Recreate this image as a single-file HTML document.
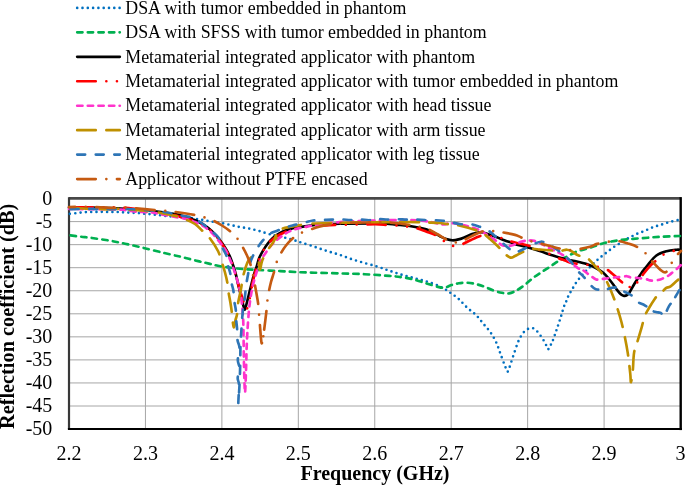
<!DOCTYPE html>
<html><head><meta charset="utf-8"><style>
html,body{margin:0;padding:0;background:#fff;overflow:hidden;}
svg{display:block;will-change:transform;}
text{font-family:"Liberation Serif",serif;fill:#000;}
.t{font-size:20px;}
.lg{font-size:17.85px;}
.ax{font-size:20px;font-weight:bold;}
.ay{font-size:20.3px;font-weight:bold;}
</style></head><body>
<svg width="685" height="485" viewBox="0 0 685 485">
<defs><clipPath id="plotclip"><rect x="66.0" y="195.55" width="617.5" height="233.5"/></clipPath></defs>
<rect width="685" height="485" fill="#fff"/>
<line x1="69.0" y1="221.60" x2="680.5" y2="221.60" stroke="#a6a6a6" stroke-width="1"/>
<line x1="69.0" y1="244.65" x2="680.5" y2="244.65" stroke="#a6a6a6" stroke-width="1"/>
<line x1="69.0" y1="267.70" x2="680.5" y2="267.70" stroke="#a6a6a6" stroke-width="1"/>
<line x1="69.0" y1="290.75" x2="680.5" y2="290.75" stroke="#a6a6a6" stroke-width="1"/>
<line x1="69.0" y1="313.80" x2="680.5" y2="313.80" stroke="#a6a6a6" stroke-width="1"/>
<line x1="69.0" y1="336.85" x2="680.5" y2="336.85" stroke="#a6a6a6" stroke-width="1"/>
<line x1="69.0" y1="359.90" x2="680.5" y2="359.90" stroke="#a6a6a6" stroke-width="1"/>
<line x1="69.0" y1="382.95" x2="680.5" y2="382.95" stroke="#a6a6a6" stroke-width="1"/>
<line x1="69.0" y1="406.00" x2="680.5" y2="406.00" stroke="#a6a6a6" stroke-width="1"/>
<line x1="145.44" y1="198.55" x2="145.44" y2="429.05" stroke="#a6a6a6" stroke-width="1"/>
<line x1="221.88" y1="198.55" x2="221.88" y2="429.05" stroke="#a6a6a6" stroke-width="1"/>
<line x1="298.32" y1="198.55" x2="298.32" y2="429.05" stroke="#a6a6a6" stroke-width="1"/>
<line x1="374.76" y1="198.55" x2="374.76" y2="429.05" stroke="#a6a6a6" stroke-width="1"/>
<line x1="451.20" y1="198.55" x2="451.20" y2="429.05" stroke="#a6a6a6" stroke-width="1"/>
<line x1="527.64" y1="198.55" x2="527.64" y2="429.05" stroke="#a6a6a6" stroke-width="1"/>
<line x1="604.08" y1="198.55" x2="604.08" y2="429.05" stroke="#a6a6a6" stroke-width="1"/>
<text x="52.3" y="204.55" text-anchor="end" class="t">0</text>
<text x="52.3" y="227.60" text-anchor="end" class="t">-5</text>
<text x="52.3" y="250.65" text-anchor="end" class="t">-10</text>
<text x="52.3" y="273.70" text-anchor="end" class="t">-15</text>
<text x="52.3" y="296.75" text-anchor="end" class="t">-20</text>
<text x="52.3" y="319.80" text-anchor="end" class="t">-25</text>
<text x="52.3" y="342.85" text-anchor="end" class="t">-30</text>
<text x="52.3" y="365.90" text-anchor="end" class="t">-35</text>
<text x="52.3" y="388.95" text-anchor="end" class="t">-40</text>
<text x="52.3" y="412.00" text-anchor="end" class="t">-45</text>
<text x="52.3" y="435.05" text-anchor="end" class="t">-50</text>
<text x="69.00" y="459.7" text-anchor="middle" class="t">2.2</text>
<text x="145.44" y="459.7" text-anchor="middle" class="t">2.3</text>
<text x="221.88" y="459.7" text-anchor="middle" class="t">2.4</text>
<text x="298.32" y="459.7" text-anchor="middle" class="t">2.5</text>
<text x="374.76" y="459.7" text-anchor="middle" class="t">2.6</text>
<text x="451.20" y="459.7" text-anchor="middle" class="t">2.7</text>
<text x="527.64" y="459.7" text-anchor="middle" class="t">2.8</text>
<text x="604.08" y="459.7" text-anchor="middle" class="t">2.9</text>
<text x="680.52" y="459.7" text-anchor="middle" class="t">3</text>
<line x1="69.0" y1="198.4" x2="680.5" y2="198.4" stroke="#484848" stroke-width="2.6"/>
<line x1="69.0" y1="197.2" x2="69.0" y2="429" stroke="#383838" stroke-width="2.2"/>
<line x1="67.9" y1="429" x2="681.9" y2="429" stroke="#000" stroke-width="2.2"/>
<line x1="680.7" y1="197.1" x2="680.7" y2="430.1" stroke="#000" stroke-width="2.4"/>
<g fill="none" stroke-linecap="round" stroke-linejoin="round" clip-path="url(#plotclip)">
<path d="M69.00 213.90 C70.05 213.80 73.37 213.52 75.30 213.30 C77.23 213.08 78.85 212.80 80.60 212.60 C82.35 212.40 84.05 212.20 85.80 212.10 C87.55 212.00 89.35 212.03 91.10 212.00 C92.85 211.97 94.55 211.93 96.30 211.90 C98.05 211.87 99.85 211.80 101.60 211.80 C103.35 211.80 105.02 211.87 106.80 211.90 C108.58 211.93 110.50 211.98 112.30 212.00 C114.10 212.02 115.85 211.95 117.60 212.00 C119.35 212.05 121.00 212.20 122.80 212.30 C124.60 212.40 126.60 212.52 128.40 212.60 C130.20 212.68 131.85 212.72 133.60 212.80 C135.35 212.88 137.20 212.97 138.90 213.10 C140.60 213.23 141.20 213.35 143.80 213.60 C146.40 213.85 150.92 214.22 154.50 214.60 C158.08 214.98 161.05 215.50 165.30 215.90 C169.55 216.30 175.67 216.65 180.00 217.00 C184.33 217.35 188.48 217.65 191.30 218.00 C194.12 218.35 195.12 218.80 196.90 219.10 C198.68 219.40 199.45 219.37 202.00 219.80 C204.55 220.23 208.73 221.12 212.20 221.70 C215.67 222.28 219.25 222.65 222.80 223.30 C226.35 223.95 230.87 225.02 233.50 225.60 C236.13 226.18 235.98 226.30 238.60 226.80 C241.22 227.30 245.78 227.90 249.20 228.60 C252.62 229.30 255.68 230.07 259.10 231.00 C262.52 231.93 265.33 233.07 269.70 234.20 C274.07 235.33 281.05 236.73 285.30 237.80 C289.55 238.87 292.35 239.75 295.20 240.60 C298.05 241.45 299.13 241.85 302.40 242.90 C305.67 243.95 310.67 245.53 314.80 246.90 C318.93 248.27 323.07 249.78 327.20 251.10 C331.33 252.42 335.47 253.43 339.60 254.80 C343.73 256.17 347.85 257.93 352.00 259.30 C356.15 260.67 360.35 261.80 364.50 263.00 C368.65 264.20 373.25 265.38 376.90 266.50 C380.55 267.62 383.15 268.60 386.40 269.70 C389.65 270.80 393.03 272.03 396.40 273.10 C399.77 274.17 403.20 275.15 406.60 276.10 C410.00 277.05 413.45 277.90 416.80 278.80 C420.15 279.70 423.30 280.45 426.70 281.50 C430.10 282.55 434.73 284.13 437.20 285.10 C439.67 286.07 439.98 286.48 441.50 287.30 C443.02 288.12 444.77 289.05 446.30 290.00 C447.83 290.95 448.63 291.50 450.70 293.00 C452.77 294.50 455.93 296.53 458.70 299.00 C461.47 301.47 464.42 305.13 467.30 307.80 C470.18 310.47 473.35 312.37 476.00 315.00 C478.65 317.63 480.80 320.72 483.20 323.60 C485.60 326.48 488.23 329.17 490.40 332.30 C492.57 335.43 494.52 338.80 496.20 342.40 C497.88 346.00 499.07 350.05 500.50 353.90 C501.93 357.75 503.82 362.95 504.80 365.50 C505.78 368.05 505.92 368.18 506.40 369.20 C506.88 370.22 507.25 371.70 507.70 371.60 C508.15 371.50 508.62 369.87 509.10 368.60 C509.58 367.33 509.63 366.93 510.60 364.00 C511.57 361.07 513.47 355.08 514.90 351.00 C516.33 346.92 517.52 342.85 519.20 339.50 C520.88 336.15 522.83 332.82 525.00 330.90 C527.17 328.98 530.03 327.77 532.20 328.00 C534.37 328.23 536.08 330.22 538.00 332.30 C539.92 334.38 542.23 338.12 543.70 340.50 C545.17 342.88 546.07 345.13 546.80 346.60 C547.53 348.07 547.65 349.27 548.10 349.30 C548.55 349.33 548.78 348.08 549.50 346.80 C550.22 345.52 551.20 344.50 552.40 341.60 C553.60 338.70 555.27 333.60 556.70 329.40 C558.13 325.20 559.80 320.18 561.00 316.40 C562.20 312.62 563.05 309.15 563.90 306.70 C564.75 304.25 565.42 303.35 566.10 301.70 C566.78 300.05 567.27 298.40 568.00 296.80 C568.73 295.20 569.62 293.67 570.50 292.10 C571.38 290.53 572.38 288.93 573.30 287.40 C574.22 285.87 575.03 284.35 576.00 282.90 C576.97 281.45 577.97 280.13 579.10 278.70 C580.23 277.27 581.55 275.68 582.80 274.30 C584.05 272.92 585.35 271.67 586.60 270.40 C587.85 269.13 589.07 267.93 590.30 266.70 C591.53 265.47 592.77 264.17 594.00 263.00 C595.23 261.83 596.40 260.83 597.70 259.70 C599.00 258.57 600.43 257.32 601.80 256.20 C603.17 255.08 604.50 254.08 605.90 253.00 C607.30 251.92 608.75 250.78 610.20 249.70 C611.65 248.62 613.15 247.47 614.60 246.50 C616.05 245.53 617.47 244.82 618.90 243.90 C620.33 242.98 621.63 241.95 623.20 241.00 C624.77 240.05 626.73 239.03 628.30 238.20 C629.87 237.37 631.03 236.78 632.60 236.00 C634.17 235.22 636.02 234.22 637.70 233.50 C639.38 232.78 641.02 232.37 642.70 231.70 C644.38 231.03 646.12 230.23 647.80 229.50 C649.48 228.77 651.23 227.90 652.80 227.30 C654.37 226.70 655.63 226.38 657.20 225.90 C658.77 225.42 660.52 224.93 662.20 224.40 C663.88 223.87 665.62 223.22 667.30 222.70 C668.98 222.18 670.50 221.73 672.30 221.30 C674.10 220.87 676.82 220.35 678.10 220.10 C679.38 219.85 679.68 219.85 680.00 219.80" stroke="#0070c0" stroke-width="2.65" stroke-dasharray="0.00 5.30 0.00 5.30 0.00 5.31 0.00 5.31 0.00 5.31 0.00 5.31 0.00 5.31 0.00 5.31 0.00 5.31 0.00 5.31 0.00 5.31 0.00 5.31 0.00 5.31 0.00 5.31 0.00 5.31 0.00 5.31 0.00 5.31 0.00 5.31 0.00 5.31 0.00 5.31 0.00 5.31 0.00 5.31 0.00 5.31 0.00 5.31 0.00 5.31 0.00 5.31 0.00 5.31 0.00 5.31 0.00 5.31 0.00 5.31 0.00 5.31 0.00 5.31 0.00 5.31 0.00 5.31 0.00 5.31 0.00 5.31 0.00 5.31 0.00 5.31 0.00 5.31 0.00 5.31 0.00 5.31 0.00 5.31 0.00 5.31 0.00 5.31 0.00 5.31 0.00 5.31 0.00 5.31 0.00 5.31 0.00 5.31 0.00 5.31 0.00 5.31 0.00 5.31 0.00 5.31 0.00 5.31 0.00 5.31 0.00 5.31 0.00 5.31 0.00 5.31 0.00 5.31 0.00 5.31 0.00 5.31 0.00 5.31 0.00 5.31 0.00 5.25 0.00 5.25 0.00 5.25 0.00 5.25 0.00 5.25 0.00 5.25 0.00 5.25 0.00 5.25 0.00 5.25 0.00 5.25 0.00 5.25 0.00 5.25 0.00 5.25 0.00 5.25 0.00 5.25 0.00 5.25 0.00 5.25 0.00 5.25 0.00 5.25 0.00 5.25 0.00 5.25 0.00 5.25 0.00 5.25 0.00 5.25 0.00 5.25 0.00 5.25 0.00 5.25 0.00 5.25 0.00 5.25 0.00 5.25 0.00 5.25 0.00 5.33 0.00 5.33 0.00 5.33 0.00 5.33 0.00 5.33 0.00 5.33 0.00 5.33 0.00 5.33 0.00 5.33 0.00 5.33 0.00 5.33 0.00 5.33 0.00 5.33 0.00 5.33 0.00 5.33 0.00 5.10 0.00 5.10 0.00 5.10 0.00 5.10 0.00 5.10 0.00 5.10 0.00 5.10 0.00 5.10 0.00 5.10 0.00 5.10 0.00 5.10 0.00 5.10 0.00 5.10 0.00 5.31 0.00 5.31 0.00 5.31 0.00 5.31 0.00 5.31 0.00 5.31 0.00 5.31 0.00 5.31 0.00 5.31 0.00 5.31 0.00 5.31 0.00 5.31 0.00 5.31 0.00 5.31 0.00 5.31 0.00 5.31 0.00 5.31 0.00 5.31 0.00 5.31 0.00 5.31 0.00 5.31 0.00 5.31 0.00 5.31 0.00 5.31 0.00 5.30 0.00 5.30" stroke-dashoffset="4.25"/>
<path d="M69.00 235.20 C71.00 235.45 77.17 236.23 81.00 236.70 C84.83 237.17 87.17 237.33 92.00 238.00 C96.83 238.67 104.50 239.75 110.00 240.70 C115.50 241.65 119.62 242.55 125.00 243.70 C130.38 244.85 135.90 246.08 142.30 247.60 C148.70 249.12 157.12 251.30 163.40 252.80 C169.68 254.30 175.77 255.60 180.00 256.60 C184.23 257.60 185.58 258.00 188.80 258.80 C192.02 259.60 195.95 260.60 199.30 261.40 C202.65 262.20 205.40 262.80 208.90 263.60 C212.40 264.40 215.12 265.33 220.30 266.20 C225.48 267.07 233.92 268.18 240.00 268.80 C246.08 269.42 250.10 269.52 256.80 269.90 C263.50 270.28 273.00 270.72 280.20 271.10 C287.40 271.48 294.23 271.93 300.00 272.20 C305.77 272.47 308.20 272.50 314.80 272.70 C321.40 272.90 331.32 273.15 339.60 273.40 C347.88 273.65 356.22 273.78 364.50 274.20 C372.78 274.62 383.10 275.40 389.30 275.90 C395.50 276.40 397.57 276.58 401.70 277.20 C405.83 277.82 409.97 278.57 414.10 279.60 C418.23 280.63 422.37 282.15 426.50 283.40 C430.63 284.65 435.80 286.40 438.90 287.10 C442.00 287.80 443.03 287.93 445.10 287.60 C447.17 287.27 449.03 285.82 451.30 285.10 C453.57 284.38 456.03 283.70 458.70 283.30 C461.37 282.90 464.42 282.57 467.30 282.70 C470.18 282.83 473.12 283.43 476.00 284.10 C478.88 284.77 481.72 285.63 484.60 286.70 C487.48 287.77 490.42 289.48 493.30 290.50 C496.18 291.52 499.27 292.32 501.90 292.80 C504.53 293.28 506.70 293.78 509.10 293.40 C511.50 293.02 513.65 291.95 516.30 290.50 C518.95 289.05 522.12 286.87 525.00 284.70 C527.88 282.53 530.72 279.67 533.60 277.50 C536.48 275.33 539.40 273.62 542.30 271.70 C545.20 269.78 548.12 267.92 551.00 266.00 C553.88 264.08 556.72 261.88 559.60 260.20 C562.48 258.52 565.42 257.35 568.30 255.90 C571.18 254.45 574.02 252.65 576.90 251.50 C579.78 250.35 582.72 249.87 585.60 249.00 C588.48 248.13 591.07 247.30 594.20 246.30 C597.33 245.30 600.28 244.00 604.40 243.00 C608.52 242.00 614.08 240.98 618.90 240.30 C623.72 239.62 628.48 239.33 633.30 238.90 C638.12 238.47 642.98 238.07 647.80 237.70 C652.62 237.33 656.83 236.98 662.20 236.70 C667.57 236.42 677.03 236.12 680.00 236.00" stroke="#00b050" stroke-width="2.65" stroke-dasharray="5.3 5.3" stroke-dashoffset="-1.7"/>
<path d="M69.00 207.60 C72.50 207.60 83.17 207.53 90.00 207.60 C96.83 207.67 104.87 207.83 110.00 208.00 C115.13 208.17 116.63 208.35 120.80 208.60 C124.97 208.85 129.38 209.05 135.00 209.50 C140.62 209.95 147.83 210.55 154.50 211.30 C161.17 212.05 169.75 213.08 175.00 214.00 C180.25 214.92 182.93 215.87 186.00 216.80 C189.07 217.73 190.35 218.23 193.40 219.60 C196.45 220.97 201.25 223.10 204.30 225.00 C207.35 226.90 209.12 228.50 211.70 231.00 C214.28 233.50 217.58 237.25 219.80 240.00 C222.02 242.75 223.35 244.82 225.00 247.50 C226.65 250.18 228.37 253.18 229.70 256.10 C231.03 259.02 231.97 261.92 233.00 265.00 C234.03 268.08 235.02 271.28 235.90 274.60 C236.78 277.92 237.53 281.67 238.30 284.90 C239.07 288.13 239.80 291.15 240.50 294.00 C241.20 296.85 241.82 299.40 242.50 302.00 C243.18 304.60 243.93 309.27 244.60 309.60 C245.27 309.93 245.77 306.60 246.50 304.00 C247.23 301.40 248.00 298.00 249.00 294.00 C250.00 290.00 251.53 283.67 252.50 280.00 C253.47 276.33 254.10 274.25 254.80 272.00 C255.50 269.75 255.98 268.78 256.70 266.50 C257.42 264.22 258.07 260.90 259.10 258.30 C260.13 255.70 261.45 253.37 262.90 250.90 C264.35 248.43 266.15 245.67 267.80 243.50 C269.45 241.33 270.95 239.55 272.80 237.90 C274.65 236.25 276.85 234.83 278.90 233.60 C280.95 232.37 283.03 231.33 285.10 230.50 C287.17 229.67 289.15 229.12 291.30 228.60 C293.45 228.08 294.05 228.00 298.00 227.40 C301.95 226.80 308.00 225.60 315.00 225.00 C322.00 224.40 330.00 224.05 340.00 223.80 C350.00 223.55 367.22 223.53 375.00 223.50 C382.78 223.47 383.20 223.42 386.70 223.60 C390.20 223.78 392.45 224.23 396.00 224.60 C399.55 224.97 404.10 225.27 408.00 225.80 C411.90 226.33 415.75 226.98 419.40 227.80 C423.05 228.62 426.40 229.25 429.90 230.70 C433.40 232.15 437.68 235.10 440.40 236.50 C443.12 237.90 444.20 238.47 446.20 239.10 C448.20 239.73 450.35 240.25 452.40 240.30 C454.45 240.35 456.45 239.92 458.50 239.40 C460.55 238.88 462.43 238.08 464.70 237.20 C466.97 236.32 469.62 234.92 472.10 234.10 C474.58 233.28 477.73 232.57 479.60 232.30 C481.47 232.03 481.65 232.10 483.30 232.50 C484.95 232.90 487.23 233.92 489.50 234.70 C491.77 235.48 494.43 236.27 496.90 237.20 C499.37 238.13 501.83 239.37 504.30 240.30 C506.77 241.23 509.92 242.15 511.70 242.80 C513.48 243.45 512.38 243.45 515.00 244.20 C517.62 244.95 523.28 246.17 527.40 247.30 C531.52 248.43 535.58 249.67 539.70 251.00 C543.82 252.33 547.97 253.97 552.10 255.30 C556.23 256.63 560.38 257.97 564.50 259.00 C568.62 260.03 573.10 260.67 576.80 261.50 C580.50 262.33 583.83 263.08 586.70 264.00 C589.57 264.92 591.52 265.75 594.00 267.00 C596.48 268.25 599.77 270.27 601.60 271.50 C603.43 272.73 603.70 273.07 605.00 274.40 C606.30 275.73 607.93 277.68 609.40 279.50 C610.87 281.32 612.47 283.48 613.80 285.30 C615.13 287.12 616.18 288.85 617.40 290.40 C618.62 291.95 620.00 293.68 621.10 294.60 C622.20 295.52 623.03 295.80 624.00 295.90 C624.97 296.00 625.93 295.87 626.90 295.20 C627.87 294.53 628.83 293.30 629.80 291.90 C630.77 290.50 631.72 288.50 632.70 286.80 C633.68 285.10 634.72 283.28 635.70 281.70 C636.68 280.12 637.63 278.77 638.60 277.30 C639.57 275.83 640.65 274.12 641.50 272.90 C642.35 271.68 642.70 271.27 643.70 270.00 C644.70 268.73 645.38 267.72 647.50 265.30 C649.62 262.88 653.23 257.85 656.40 255.50 C659.57 253.15 663.12 252.17 666.50 251.20 C669.88 250.23 674.45 249.93 676.70 249.70 C678.95 249.47 679.45 249.78 680.00 249.80" stroke="#000000" stroke-width="2.65"/>
<path d="M69.00 207.30 C74.17 207.32 90.67 207.30 100.00 207.40 C109.33 207.50 116.08 207.22 125.00 207.90 C133.92 208.58 146.00 210.48 153.50 211.50 C161.00 212.52 165.08 212.98 170.00 214.00 C174.92 215.02 179.17 216.55 183.00 217.60 C186.83 218.65 189.50 218.97 193.00 220.30 C196.50 221.63 200.83 223.68 204.00 225.60 C207.17 227.52 209.33 229.23 212.00 231.80 C214.67 234.37 217.00 236.72 220.00 241.00 C223.00 245.28 227.33 251.67 230.00 257.50 C232.67 263.33 234.50 271.08 236.00 276.00 C237.50 280.92 238.10 283.83 239.00 287.00 C239.90 290.17 240.57 292.33 241.40 295.00 C242.23 297.67 243.20 300.57 244.00 303.00 C244.80 305.43 245.53 309.10 246.20 309.60 C246.87 310.10 247.45 307.63 248.00 306.00 C248.55 304.37 248.95 302.58 249.50 299.80 C250.05 297.02 250.72 292.43 251.30 289.30 C251.88 286.17 252.30 284.05 253.00 281.00 C253.70 277.95 254.67 274.17 255.50 271.00 C256.33 267.83 256.92 265.00 258.00 262.00 C259.08 259.00 260.50 255.83 262.00 253.00 C263.50 250.17 265.17 247.33 267.00 245.00 C268.83 242.67 270.83 240.75 273.00 239.00 C275.17 237.25 277.50 235.87 280.00 234.50 C282.50 233.13 285.00 231.83 288.00 230.80 C291.00 229.77 293.50 229.10 298.00 228.30 C302.50 227.50 308.00 226.58 315.00 226.00 C322.00 225.42 330.00 225.08 340.00 224.80 C350.00 224.52 367.22 224.28 375.00 224.30 C382.78 224.32 383.10 224.72 386.70 224.90 C390.30 225.08 393.20 225.12 396.60 225.40 C400.00 225.68 403.70 226.10 407.10 226.60 C410.50 227.10 413.85 227.58 417.00 228.40 C420.15 229.22 422.98 230.43 426.00 231.50 C429.02 232.57 432.22 233.28 435.10 234.80 C437.98 236.32 441.15 239.07 443.30 240.60 C445.45 242.13 446.38 243.12 448.00 244.00 C449.62 244.88 451.33 245.65 453.00 245.90 C454.67 246.15 456.35 245.82 458.00 245.50 C459.65 245.18 460.73 244.92 462.90 244.00 C465.07 243.08 468.12 241.33 471.00 240.00 C473.88 238.67 477.70 236.75 480.20 236.00 C482.70 235.25 484.03 235.42 486.00 235.50 C487.97 235.58 489.57 236.12 492.00 236.50 C494.43 236.88 497.73 237.07 500.60 237.80 C503.47 238.53 506.12 239.97 509.20 240.90 C512.28 241.83 515.67 242.55 519.10 243.40 C522.53 244.25 526.57 244.95 529.80 246.00 C533.03 247.05 535.40 248.47 538.50 249.70 C541.60 250.93 545.20 252.05 548.40 253.40 C551.60 254.75 554.93 256.62 557.70 257.80 C560.47 258.98 562.43 259.58 565.00 260.50 C567.57 261.42 569.58 262.62 573.10 263.30 C576.62 263.98 582.28 264.07 586.10 264.60 C589.92 265.13 592.70 265.78 596.00 266.50 C599.30 267.22 603.23 267.73 605.90 268.90 C608.57 270.07 609.83 271.73 612.00 273.50 C614.17 275.27 616.90 277.78 618.90 279.50 C620.90 281.22 622.23 282.55 624.00 283.80 C625.77 285.05 627.83 286.77 629.50 287.00 C631.17 287.23 632.55 286.15 634.00 285.20 C635.45 284.25 636.63 283.17 638.20 281.30 C639.77 279.43 641.43 276.55 643.40 274.00 C645.37 271.45 647.58 268.48 650.00 266.00 C652.42 263.52 655.27 261.22 657.90 259.10 C660.53 256.98 662.80 254.75 665.80 253.30 C668.80 251.85 673.53 250.95 675.90 250.40 C678.27 249.85 679.32 250.07 680.00 250.00" stroke="#ff0000" stroke-width="2.65" stroke-dasharray="18.55 10.60 0.00 10.60 0.00 10.60 18.55 10.60 0.00 10.60 0.00 10.60 18.55 10.60 0.00 10.60 0.00 10.60 18.55 10.60 0.00 10.60 0.00 10.60 18.55 10.60 0.00 10.60 0.00 10.60 18.55 10.60 0.00 10.60 0.00 10.60 18.55 10.60 0.00 10.60 0.00 10.60 18.55 10.60 0.00 10.60 0.00 10.60 18.55 10.60 0.00 10.60 0.00 10.60 18.55 10.68 0.00 10.68 0.00 10.68 18.55 10.68 0.00 10.68 0.00 10.68 18.55 10.68 0.00 10.68 0.00 10.68 18.55 10.68 0.00 10.68 0.00 10.68 18.55 10.68 0.00 10.68 0.00 10.68 18.55 9.18 0.00 9.18 0.00 9.18 18.55 10.60 0.00 10.60 0.00 10.60 18.55 10.60 0.00 10.60 0.00 10.60" stroke-dashoffset="45.33"/>
<path d="M69.00 209.00 C74.17 209.03 91.32 209.10 100.00 209.20 C108.68 209.30 116.87 209.42 121.10 209.60 C125.33 209.78 123.02 209.97 125.40 210.30 C127.78 210.63 131.30 211.27 135.40 211.60 C139.50 211.93 145.90 211.90 150.00 212.30 C154.10 212.70 155.33 213.15 160.00 214.00 C164.67 214.85 173.50 216.53 178.00 217.40 C182.50 218.27 184.17 218.43 187.00 219.20 C189.83 219.97 192.17 220.78 195.00 222.00 C197.83 223.22 201.17 224.67 204.00 226.50 C206.83 228.33 209.33 230.33 212.00 233.00 C214.67 235.67 217.67 239.50 220.00 242.50 C222.33 245.50 224.17 247.75 226.00 251.00 C227.83 254.25 229.50 258.33 231.00 262.00 C232.50 265.67 233.83 269.50 235.00 273.00 C236.17 276.50 237.08 279.67 238.00 283.00 C238.92 286.33 239.83 289.33 240.50 293.00 C241.17 296.67 241.55 300.50 242.00 305.00 C242.45 309.50 242.93 314.17 243.20 320.00 C243.47 325.83 243.47 332.50 243.60 340.00 C243.73 347.50 243.77 356.25 244.00 365.00 C244.23 373.75 244.63 392.50 245.00 392.50 C245.37 392.50 245.93 372.25 246.20 365.00 C246.47 357.75 246.38 354.83 246.60 349.00 C246.82 343.17 247.10 336.50 247.50 330.00 C247.90 323.50 248.42 315.83 249.00 310.00 C249.58 304.17 250.25 299.50 251.00 295.00 C251.75 290.50 252.72 286.33 253.50 283.00 C254.28 279.67 254.62 278.50 255.70 275.00 C256.78 271.50 258.40 265.60 260.00 262.00 C261.60 258.40 263.17 256.48 265.30 253.40 C267.43 250.32 269.90 246.50 272.80 243.50 C275.70 240.50 279.82 237.47 282.70 235.40 C285.58 233.33 287.63 232.23 290.10 231.10 C292.57 229.97 294.18 229.45 297.50 228.60 C300.82 227.75 304.58 226.93 310.00 226.00 C315.42 225.07 323.33 223.75 330.00 223.00 C336.67 222.25 343.33 221.90 350.00 221.50 C356.67 221.10 363.50 220.82 370.00 220.60 C376.50 220.38 382.52 220.30 389.00 220.20 C395.48 220.10 403.73 219.95 408.90 220.00 C414.07 220.05 416.15 220.13 420.00 220.50 C423.85 220.87 428.22 221.53 432.00 222.20 C435.78 222.87 439.53 224.33 442.70 224.50 C445.87 224.67 447.73 223.15 451.00 223.20 C454.27 223.25 457.95 223.80 462.30 224.80 C466.65 225.80 473.60 227.95 477.10 229.20 C480.60 230.45 480.42 230.55 483.30 232.30 C486.18 234.05 491.72 237.85 494.40 239.70 C497.08 241.55 497.95 242.43 499.40 243.40 C500.85 244.37 501.47 245.08 503.10 245.50 C504.73 245.92 507.35 246.05 509.20 245.90 C511.05 245.75 512.75 245.12 514.20 244.60 C515.65 244.08 516.32 243.38 517.90 242.80 C519.48 242.22 521.92 241.48 523.70 241.10 C525.48 240.72 526.85 240.55 528.60 240.50 C530.35 240.45 532.13 240.30 534.20 240.80 C536.27 241.30 538.70 242.38 541.00 243.50 C543.30 244.62 545.53 246.18 548.00 247.50 C550.47 248.82 553.38 250.18 555.80 251.40 C558.22 252.62 560.47 253.45 562.50 254.80 C564.53 256.15 566.25 257.92 568.00 259.50 C569.75 261.08 571.28 262.83 573.00 264.30 C574.72 265.77 576.68 267.35 578.30 268.30 C579.92 269.25 581.10 269.07 582.70 270.00 C584.30 270.93 586.52 272.90 587.90 273.90 C589.28 274.90 589.62 275.08 591.00 276.00 C592.38 276.92 594.67 278.85 596.20 279.40 C597.73 279.95 598.73 279.43 600.20 279.30 C601.67 279.17 603.23 278.82 605.00 278.60 C606.77 278.38 608.97 278.22 610.80 278.00 C612.63 277.78 614.30 277.48 616.00 277.30 C617.70 277.12 619.18 277.08 621.00 276.90 C622.82 276.72 625.32 276.12 626.90 276.20 C628.48 276.28 628.92 277.12 630.50 277.40 C632.08 277.68 634.82 277.77 636.40 277.90 C637.98 278.03 638.30 277.97 640.00 278.20 C641.70 278.43 644.93 278.93 646.60 279.30 C648.27 279.67 648.60 280.20 650.00 280.40 C651.40 280.60 653.17 280.68 655.00 280.50 C656.83 280.32 659.33 279.83 661.00 279.30 C662.67 278.77 663.60 278.02 665.00 277.30 C666.40 276.58 667.98 275.97 669.40 275.00 C670.82 274.03 672.10 272.67 673.50 271.50 C674.90 270.33 676.55 269.08 677.80 268.00 C679.05 266.92 680.47 265.50 681.00 265.00" stroke="#ff33cc" stroke-width="2.65" stroke-dasharray="5.30 5.30 5.30 5.30 5.30 5.30 5.30 5.30 5.30 5.30 5.30 5.30 5.30 5.30 5.30 5.30 5.30 5.30 5.30 5.30 5.30 5.30 5.30 5.30 5.30 5.30 5.30 5.30 5.30 5.30 5.30 5.30 5.30 5.30 5.30 5.30 5.30 5.30 5.30 5.30 5.30 5.30 5.30 5.30 5.30 5.30 5.30 5.30 5.30 5.30 5.30 5.30 5.30 5.30 5.30 5.30 5.30 5.30 5.30 5.30 5.30 5.30 5.30 5.30 5.30 5.30 5.30 5.30 5.30 5.30 5.30 5.30 5.30 5.30 5.30 5.30 5.30 5.30 5.30 5.30 5.30 5.30 5.30 5.30 5.30 5.30 5.30 5.33 5.30 5.33 5.30 5.33 5.30 5.33 5.30 5.33 5.30 5.33 5.30 5.33 5.30 5.33 5.30 5.33 5.30 5.33 5.30 5.33 5.30 5.33 5.30 5.33 5.30 5.15 5.30 5.15 5.30 5.15 5.30 5.15 5.30 5.15 5.30 5.15 5.30 5.15 5.30 5.15 5.30 5.15 5.30 5.15 5.30 5.15 5.30 5.15 5.30 5.15 5.30 5.15 5.30 5.15 5.30 5.15 5.30 5.15 5.30 5.12 5.30 5.12 5.30 5.12 5.30 5.81 5.30 5.81 5.30 5.81 5.30 5.81 5.30 5.81 5.30 5.81 5.30 5.81 5.30 5.81 5.30 5.81 5.30 5.30 5.30 5.30" stroke-dashoffset="2.03"/>
<path d="M69.00 208.40 C70.68 208.37 76.05 208.13 79.10 208.20 C82.15 208.27 84.08 208.67 87.30 208.80 C90.52 208.93 94.95 208.92 98.40 209.00 C101.85 209.08 104.85 209.33 108.00 209.30 C111.15 209.27 114.47 208.80 117.30 208.80 C120.13 208.80 121.98 209.10 125.00 209.30 C128.02 209.50 132.07 209.75 135.40 210.00 C138.73 210.25 141.30 210.42 145.00 210.80 C148.70 211.18 152.27 211.37 157.60 212.30 C162.93 213.23 172.32 215.20 177.00 216.40 C181.68 217.60 182.70 218.23 185.70 219.50 C188.70 220.77 192.28 222.17 195.00 224.00 C197.72 225.83 199.50 228.08 202.00 230.50 C204.50 232.92 207.33 235.08 210.00 238.50 C212.67 241.92 215.95 246.83 218.00 251.00 C220.05 255.17 221.13 259.92 222.30 263.50 C223.47 267.08 224.18 269.42 225.00 272.50 C225.82 275.58 226.62 278.75 227.20 282.00 C227.78 285.25 227.98 288.67 228.50 292.00 C229.02 295.33 229.77 298.78 230.30 302.00 C230.83 305.22 231.32 308.17 231.70 311.30 C232.08 314.43 232.22 318.13 232.60 320.80 C232.98 323.47 233.52 327.43 234.00 327.30 C234.48 327.17 234.98 322.22 235.50 320.00 C236.02 317.78 236.68 316.73 237.10 314.00 C237.52 311.27 237.38 307.60 238.00 303.60 C238.62 299.60 239.92 294.67 240.80 290.00 C241.68 285.33 242.20 280.17 243.30 275.60 C244.40 271.03 246.12 265.62 247.40 262.60 C248.68 259.58 249.20 259.52 251.00 257.50 C252.80 255.48 256.93 250.42 258.20 250.50 C259.47 250.58 258.33 254.83 258.60 258.00 C258.87 261.17 259.18 269.12 259.80 269.50 C260.42 269.88 261.10 263.38 262.30 260.30 C263.50 257.22 265.38 253.70 267.00 251.00 C268.62 248.30 270.73 245.97 272.00 244.10 C273.27 242.23 273.97 241.28 274.60 239.80 C275.23 238.32 275.53 235.45 275.80 235.20 C276.07 234.95 275.67 238.83 276.20 238.30 C276.73 237.77 277.92 233.62 279.00 232.00 C280.08 230.38 280.72 229.48 282.70 228.60 C284.68 227.72 288.35 227.22 290.90 226.70 C293.45 226.18 294.82 226.02 298.00 225.50 C301.18 224.98 304.60 224.00 310.00 223.60 C315.40 223.20 323.73 223.27 330.40 223.10 C337.07 222.93 342.57 222.75 350.00 222.60 C357.43 222.45 366.67 222.30 375.00 222.20 C383.33 222.10 393.00 222.02 400.00 222.00 C407.00 221.98 412.40 222.02 417.00 222.10 C421.60 222.18 423.77 222.35 427.60 222.50 C431.43 222.65 436.90 222.75 440.00 223.00 C443.10 223.25 443.52 223.70 446.20 224.00 C448.88 224.30 451.37 223.83 456.10 224.80 C460.83 225.77 470.07 228.35 474.60 229.80 C479.13 231.25 480.73 231.97 483.30 233.50 C485.87 235.03 487.53 236.83 490.00 239.00 C492.47 241.17 495.72 244.12 498.10 246.50 C500.48 248.88 502.23 251.45 504.30 253.30 C506.37 255.15 508.72 257.15 510.50 257.60 C512.28 258.05 513.22 256.80 515.00 256.00 C516.78 255.20 518.73 253.95 521.20 252.80 C523.67 251.65 526.67 249.65 529.80 249.10 C532.93 248.55 536.70 249.30 540.00 249.50 C543.30 249.70 546.35 250.05 549.60 250.30 C552.85 250.55 556.62 251.10 559.50 251.00 C562.38 250.90 564.82 249.62 566.90 249.70 C568.98 249.78 570.13 250.57 572.00 251.50 C573.87 252.43 575.65 254.25 578.10 255.30 C580.55 256.35 584.72 256.93 586.70 257.80 C588.68 258.67 588.62 259.13 590.00 260.50 C591.38 261.87 593.07 263.92 595.00 266.00 C596.93 268.08 599.52 270.17 601.60 273.00 C603.68 275.83 605.43 278.75 607.50 283.00 C609.57 287.25 611.93 292.92 614.00 298.50 C616.07 304.08 618.27 310.92 619.90 316.50 C621.53 322.08 622.50 325.98 623.80 332.00 C625.10 338.02 626.63 345.73 627.70 352.60 C628.77 359.47 629.65 368.27 630.20 373.20 C630.75 378.13 630.57 382.63 631.00 382.20 C631.43 381.77 632.28 375.53 632.80 370.60 C633.32 365.67 633.23 357.75 634.10 352.60 C634.97 347.45 636.72 344.00 638.00 339.70 C639.28 335.40 640.67 330.75 641.80 326.80 C642.93 322.85 643.60 319.13 644.80 316.00 C646.00 312.87 647.35 310.85 649.00 308.00 C650.65 305.15 653.20 301.07 654.70 298.90 C656.20 296.73 656.83 296.05 658.00 295.00 C659.17 293.95 660.43 293.72 661.70 292.60 C662.97 291.48 664.12 289.35 665.60 288.30 C667.08 287.25 668.77 287.52 670.60 286.30 C672.43 285.08 675.03 282.30 676.60 281.00 C678.17 279.70 679.43 278.92 680.00 278.50" stroke="#bf9000" stroke-width="2.65" stroke-dasharray="18.55 10.60 18.55 10.60 18.55 11.07 18.55 11.07 18.55 10.91 18.55 10.91 18.55 10.91 18.55 10.91 18.55 10.91 18.55 10.91 18.55 10.91 18.55 22.45 18.55 11.70 18.55 11.70 18.55 11.70 18.55 10.65 18.55 10.65 18.55 10.65 18.55 10.65 18.55 10.65 18.55 10.65 18.55 10.65 18.55 10.65 18.55 10.65 18.55 10.65 18.55 10.49 18.55 10.49 18.55 10.49 18.55 10.49 18.55 10.49 18.55 10.49 18.55 10.49 18.55 10.60 18.55 10.60 18.55 10.60" stroke-dashoffset="27.47"/>
<path d="M69.00 209.20 C70.63 209.17 75.65 209.07 78.80 209.00 C81.95 208.93 84.83 208.78 87.90 208.80 C90.97 208.82 93.52 209.05 97.20 209.10 C100.88 209.15 105.20 209.12 110.00 209.10 C114.80 209.08 121.97 208.97 126.00 209.00 C130.03 209.03 130.20 209.05 134.20 209.30 C138.20 209.55 145.42 210.08 150.00 210.50 C154.58 210.92 158.13 211.33 161.70 211.80 C165.27 212.27 168.35 212.70 171.40 213.30 C174.45 213.90 177.02 214.80 180.00 215.40 C182.98 216.00 186.73 216.22 189.30 216.90 C191.87 217.58 193.62 218.65 195.40 219.50 C197.18 220.35 198.23 220.83 200.00 222.00 C201.77 223.17 203.90 224.85 206.00 226.50 C208.10 228.15 210.42 229.92 212.60 231.90 C214.78 233.88 217.48 235.82 219.10 238.40 C220.72 240.98 221.05 244.45 222.30 247.40 C223.55 250.35 225.68 253.22 226.60 256.10 C227.52 258.98 227.18 261.82 227.80 264.70 C228.42 267.58 229.68 270.40 230.30 273.40 C230.92 276.40 230.98 279.82 231.50 282.70 C232.02 285.58 232.92 287.52 233.40 290.70 C233.88 293.88 234.00 298.58 234.40 301.80 C234.80 305.02 235.50 306.98 235.80 310.00 C236.10 313.02 235.98 316.73 236.20 319.90 C236.42 323.07 236.88 325.65 237.10 329.00 C237.32 332.35 237.10 336.83 237.50 340.00 C237.90 343.17 239.45 344.67 239.50 348.00 C239.55 351.33 237.80 356.67 237.80 360.00 C237.80 363.33 239.52 365.00 239.50 368.00 C239.48 371.00 237.78 375.17 237.70 378.00 C237.62 380.83 238.90 380.83 239.00 385.00 C239.10 389.17 238.22 403.00 238.30 403.00 C238.38 403.00 239.18 391.33 239.50 385.00 C239.82 378.67 240.03 371.67 240.20 365.00 C240.37 358.33 240.30 350.83 240.50 345.00 C240.70 339.17 241.12 334.50 241.40 330.00 C241.68 325.50 241.85 322.17 242.20 318.00 C242.55 313.83 243.07 308.33 243.50 305.00 C243.93 301.67 244.35 301.33 244.80 298.00 C245.25 294.67 245.58 289.33 246.20 285.00 C246.82 280.67 247.78 275.83 248.50 272.00 C249.22 268.17 249.75 264.70 250.50 262.00 C251.25 259.30 251.77 258.27 253.00 255.80 C254.23 253.33 256.25 249.77 257.90 247.20 C259.55 244.63 261.05 242.57 262.90 240.40 C264.75 238.23 266.53 235.85 269.00 234.20 C271.47 232.55 274.60 231.73 277.70 230.50 C280.80 229.27 284.72 227.73 287.60 226.80 C290.48 225.87 291.98 225.65 295.00 224.90 C298.02 224.15 302.68 223.03 305.70 222.30 C308.72 221.57 310.15 220.88 313.10 220.50 C316.05 220.12 320.23 220.15 323.40 220.00 C326.57 219.85 329.08 219.70 332.10 219.60 C335.12 219.50 338.38 219.33 341.50 219.40 C344.62 219.47 347.70 219.97 350.80 220.00 C353.90 220.03 356.98 219.57 360.10 219.60 C363.22 219.63 366.52 220.32 369.50 220.20 C372.48 220.08 374.95 219.00 378.00 218.90 C381.05 218.80 384.60 219.55 387.80 219.60 C391.00 219.65 394.08 219.20 397.20 219.20 C400.32 219.20 403.38 219.53 406.50 219.60 C409.62 219.67 412.78 219.53 415.90 219.60 C419.02 219.67 422.08 219.90 425.20 220.00 C428.32 220.10 431.58 220.07 434.60 220.20 C437.62 220.33 440.58 220.50 443.30 220.80 C446.02 221.10 448.95 221.62 450.90 222.00 C452.85 222.38 453.32 222.73 455.00 223.10 C456.68 223.47 458.35 224.02 461.00 224.20 C463.65 224.38 467.80 223.78 470.90 224.20 C474.00 224.62 476.72 225.67 479.60 226.70 C482.48 227.73 485.63 228.85 488.20 230.40 C490.77 231.95 492.63 233.93 495.00 236.00 C497.37 238.07 500.13 240.75 502.40 242.80 C504.67 244.85 506.83 246.85 508.60 248.30 C510.37 249.75 511.68 250.88 513.00 251.50 C514.32 252.12 515.33 252.12 516.50 252.00 C517.67 251.88 518.60 251.38 520.00 250.80 C521.40 250.22 522.65 249.60 524.90 248.50 C527.15 247.40 530.82 245.33 533.50 244.20 C536.18 243.07 538.58 241.73 541.00 241.70 C543.42 241.67 545.50 242.78 548.00 244.00 C550.50 245.22 553.05 246.92 556.00 249.00 C558.95 251.08 563.18 254.37 565.70 256.50 C568.22 258.63 569.07 259.38 571.10 261.80 C573.13 264.22 575.83 268.53 577.90 271.00 C579.97 273.47 581.43 274.32 583.50 276.60 C585.57 278.88 588.25 282.60 590.30 284.70 C592.35 286.80 593.35 288.37 595.80 289.20 C598.25 290.03 602.63 289.87 605.00 289.70 C607.37 289.53 608.42 288.58 610.00 288.20 C611.58 287.82 613.00 287.27 614.50 287.40 C616.00 287.53 617.55 288.37 619.00 289.00 C620.45 289.63 621.15 290.17 623.20 291.20 C625.25 292.23 628.95 293.43 631.30 295.20 C633.65 296.97 635.05 300.12 637.30 301.80 C639.55 303.48 642.40 303.85 644.80 305.30 C647.20 306.75 649.83 309.38 651.70 310.50 C653.57 311.62 654.58 311.62 656.00 312.00 C657.42 312.38 658.95 312.37 660.20 312.80 C661.45 313.23 662.62 314.48 663.50 314.60 C664.38 314.72 664.65 314.80 665.50 313.50 C666.35 312.20 667.17 309.23 668.60 306.80 C670.03 304.37 672.43 301.47 674.10 298.90 C675.77 296.33 677.53 293.05 678.60 291.40 C679.67 289.75 680.18 289.40 680.50 289.00" stroke="#2e75b6" stroke-width="2.65" stroke-dasharray="7.95 10.60 7.95 10.66 7.95 10.66 7.95 10.66 7.95 10.66 7.95 10.66 7.95 10.66 7.95 10.66 7.95 10.66 7.95 10.66 7.95 10.66 7.95 10.66 7.95 10.66 7.95 10.66 7.95 10.68 7.95 10.68 7.95 10.68 7.95 10.68 7.95 10.68 7.95 10.68 7.95 10.68 7.95 10.68 7.95 10.68 7.95 10.68 7.95 10.68 7.95 10.68 7.95 10.68 7.95 10.56 7.95 10.56 7.95 10.56 7.95 10.56 7.95 10.56 7.95 10.56 7.95 10.56 7.95 10.56 7.95 10.56 7.95 10.56 7.95 10.56 7.95 10.56 7.95 10.56 7.95 10.56 7.95 10.56 7.95 10.56 7.95 10.56 7.95 10.56 7.95 10.56 7.95 10.56 7.95 9.69 7.95 9.69 7.95 10.79 7.95 9.05 7.95 8.05 7.95 8.05 7.95 10.60 7.95 10.60" stroke-dashoffset="16.98"/>
<path d="M69.00 207.10 C71.70 207.05 80.03 206.77 85.20 206.80 C90.37 206.83 95.00 207.12 100.00 207.30 C105.00 207.48 111.05 207.85 115.20 207.90 C119.35 207.95 121.58 207.55 124.90 207.60 C128.22 207.65 130.17 207.78 135.10 208.20 C140.03 208.62 149.57 209.67 154.50 210.10 C159.43 210.53 161.37 210.52 164.70 210.80 C168.03 211.08 169.55 211.12 174.50 211.80 C179.45 212.48 189.52 214.00 194.40 214.90 C199.28 215.80 200.60 216.22 203.80 217.20 C207.00 218.18 210.57 219.42 213.60 220.80 C216.63 222.18 219.30 223.80 222.00 225.50 C224.70 227.20 227.27 228.85 229.80 231.00 C232.33 233.15 235.07 235.73 237.20 238.40 C239.33 241.07 240.97 244.15 242.60 247.00 C244.23 249.85 245.63 252.42 247.00 255.50 C248.37 258.58 249.80 262.25 250.80 265.50 C251.80 268.75 252.32 271.77 253.00 275.00 C253.68 278.23 254.03 280.08 254.90 284.90 C255.77 289.72 257.52 299.08 258.20 303.90 C258.88 308.72 258.73 310.50 259.00 313.80 C259.27 317.10 259.38 318.88 259.80 323.70 C260.22 328.52 260.97 340.32 261.50 342.70 C262.03 345.08 262.58 339.95 263.00 338.00 C263.42 336.05 263.43 335.45 264.00 331.00 C264.57 326.55 265.85 316.23 266.40 311.30 C266.95 306.37 266.88 304.70 267.30 301.40 C267.72 298.10 268.28 294.73 268.90 291.50 C269.52 288.27 270.17 285.17 271.00 282.00 C271.83 278.83 272.98 275.73 273.90 272.50 C274.82 269.27 275.35 265.78 276.50 262.60 C277.65 259.42 279.22 256.25 280.80 253.40 C282.38 250.55 284.03 247.98 286.00 245.50 C287.97 243.02 290.27 240.50 292.60 238.50 C294.93 236.50 297.02 235.00 300.00 233.50 C302.98 232.00 307.17 230.67 310.50 229.50 C313.83 228.33 316.68 227.37 320.00 226.50 C323.32 225.63 327.12 224.87 330.40 224.30 C333.68 223.73 333.67 223.40 339.70 223.10 C345.73 222.80 359.88 222.63 366.60 222.50 C373.32 222.37 376.27 222.30 380.00 222.30 C383.73 222.30 385.67 222.30 389.00 222.50 C392.33 222.70 396.68 223.10 400.00 223.50 C403.32 223.90 405.77 224.38 408.90 224.90 C412.03 225.42 415.50 225.83 418.80 226.60 C422.10 227.37 425.67 228.27 428.70 229.50 C431.73 230.73 434.28 232.43 437.00 234.00 C439.72 235.57 442.83 237.65 445.00 238.90 C447.17 240.15 448.28 240.90 450.00 241.50 C451.72 242.10 453.63 242.50 455.30 242.50 C456.97 242.50 458.43 241.97 460.00 241.50 C461.57 241.03 462.70 240.62 464.70 239.70 C466.70 238.78 469.12 237.35 472.00 236.00 C474.88 234.65 478.67 232.43 482.00 231.60 C485.33 230.77 488.60 230.88 492.00 231.00 C495.40 231.12 498.57 231.65 502.40 232.30 C506.23 232.95 511.87 234.05 515.00 234.90 C518.13 235.75 518.62 236.37 521.20 237.40 C523.78 238.43 527.32 240.08 530.50 241.10 C533.68 242.12 537.05 242.68 540.30 243.50 C543.55 244.32 546.80 245.17 550.00 246.00 C553.20 246.83 556.27 247.83 559.50 248.50 C562.73 249.17 566.10 249.90 569.40 250.00 C572.70 250.10 575.87 249.63 579.30 249.10 C582.73 248.57 587.02 247.67 590.00 246.80 C592.98 245.93 594.20 244.73 597.20 243.90 C600.20 243.07 604.38 242.25 608.00 241.80 C611.62 241.35 615.57 240.92 618.90 241.20 C622.23 241.48 625.00 242.57 628.00 243.50 C631.00 244.43 634.08 245.28 636.90 246.80 C639.72 248.32 642.48 250.32 644.90 252.60 C647.32 254.88 649.22 258.02 651.40 260.50 C653.58 262.98 655.83 265.53 658.00 267.50 C660.17 269.47 662.73 271.88 664.40 272.30 C666.07 272.72 666.92 271.35 668.00 270.00 C669.08 268.65 669.45 266.62 670.90 264.20 C672.35 261.78 675.02 257.70 676.70 255.50 C678.38 253.30 680.28 251.75 681.00 251.00" stroke="#c55a11" stroke-width="2.65" stroke-dasharray="18.55 10.60 0.00 10.60 18.55 10.66 0.00 10.66 18.55 10.66 0.00 10.66 18.55 10.66 0.00 10.66 18.55 10.66 0.00 10.66 18.55 10.66 0.00 10.66 18.55 10.66 0.00 10.66 18.55 6.84 0.00 6.84 18.55 10.60 0.00 10.60 18.55 10.60 0.00 10.60 18.55 10.60 0.00 10.60 18.55 10.60 0.00 10.60 18.55 10.60 0.00 10.60 18.55 10.60 0.00 10.60 18.55 10.60 0.00 10.60 18.55 10.60 0.00 10.60 18.55 10.60 0.00 10.60 18.55 10.60 0.00 10.60 18.55 10.60 0.00 10.60 18.55 10.60 0.00 10.60 18.55 10.60 0.00 10.60 18.55 10.60 0.00 10.60 18.55 10.60 0.00 10.60" stroke-dashoffset="12.43"/>
</g>
<line x1="77.2" y1="7.90" x2="119.8" y2="7.90" stroke="#0070c0" stroke-width="2.65" stroke-linecap="round" stroke-dasharray="0 5.3"/>
<line x1="77.2" y1="32.35" x2="119.8" y2="32.35" stroke="#00b050" stroke-width="2.65" stroke-linecap="round" stroke-dasharray="5.3 5.3"/>
<line x1="77.2" y1="56.80" x2="119.8" y2="56.80" stroke="#000000" stroke-width="2.65" stroke-linecap="round"/>
<line x1="77.2" y1="81.25" x2="119.8" y2="81.25" stroke="#ff0000" stroke-width="2.65" stroke-linecap="round" stroke-dasharray="18.55 10.6 0 10.6 0 10.6"/>
<line x1="77.2" y1="105.70" x2="119.8" y2="105.70" stroke="#ff33cc" stroke-width="2.65" stroke-linecap="round" stroke-dasharray="5.3 5.3"/>
<line x1="77.2" y1="130.15" x2="119.8" y2="130.15" stroke="#bf9000" stroke-width="2.65" stroke-linecap="round" stroke-dasharray="18.55 10.6"/>
<line x1="77.2" y1="154.60" x2="119.8" y2="154.60" stroke="#2e75b6" stroke-width="2.65" stroke-linecap="round" stroke-dasharray="7.95 10.6"/>
<line x1="77.2" y1="179.05" x2="119.8" y2="179.05" stroke="#c55a11" stroke-width="2.65" stroke-linecap="round" stroke-dasharray="18.55 10.6 0 10.6"/>
<text class="lg" x="125.3" y="13.60">DSA with tumor embedded in phantom</text>
<text class="lg" x="125.3" y="38.05">DSA with SFSS with tumor embedded in phantom</text>
<text class="lg" x="125.3" y="62.50">Metamaterial integrated applicator with phantom</text>
<text class="lg" x="125.3" y="86.95">Metamaterial integrated applicator with tumor embedded in phantom</text>
<text class="lg" x="125.3" y="111.40">Metamaterial integrated applicator with head tissue</text>
<text class="lg" x="125.3" y="135.85">Metamaterial integrated applicator with arm tissue</text>
<text class="lg" x="125.3" y="160.30">Metamaterial integrated applicator with leg tissue</text>
<text class="lg" x="125.3" y="184.75">Applicator without PTFE encased</text>
<text class="ax" x="375" y="479.7" text-anchor="middle">Frequency (GHz)</text>
<text class="ay" transform="translate(14 316.3) rotate(-90)" text-anchor="middle">Reflection coefficient (dB)</text>
</svg>
</body></html>
